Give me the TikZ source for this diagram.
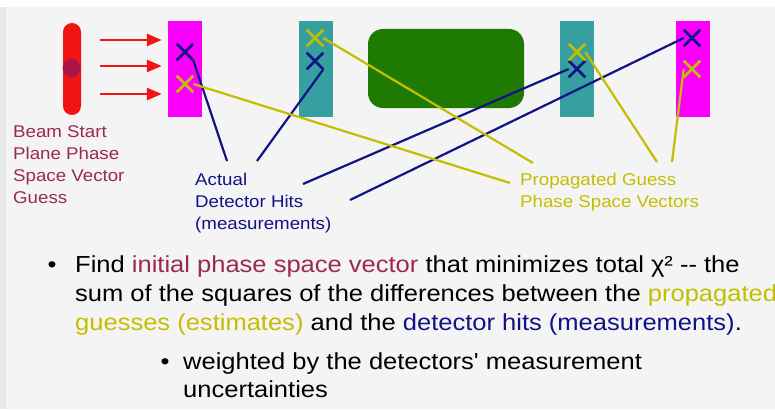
\documentclass[tikz,border=0pt]{standalone}
\usepackage{fontspec}
\usepackage{xcolor}
\usepackage{tikz}
\usetikzlibrary{shapes,shapes.misc,arrows.meta,positioning,calc}

\newfontfamily\slidefont{Liberation Sans}[FakeStretch=1.1]

\definecolor{beamred}{RGB}{240,20,20}
\definecolor{beamdot}{RGB}{170,20,70}
\definecolor{initcol}{RGB}{155,42,82}
\definecolor{hitcol}{RGB}{18,18,135}
\definecolor{guesscol}{RGB}{196,190,0}
\definecolor{detmag}{RGB}{250,0,250}
\definecolor{detteal}{RGB}{54,160,160}
\definecolor{magnetgreen}{RGB}{30,122,0}
\definecolor{slidebg}{RGB}{244,244,244}

\tikzset{
  detector/.style={rectangle, minimum width=34pt, minimum height=95pt, inner sep=0pt},
  hitmark/.style={cross out, draw=hitcol, line width=2.6pt, minimum size=14pt, inner sep=0pt},
  guessmark/.style={cross out, draw=guesscol, line width=2.6pt, minimum size=14pt, inner sep=0pt},
  hitline/.style={draw=hitcol, line width=2.2pt},
  guessline/.style={draw=guesscol, line width=2.2pt},
  beamarrow/.style={draw=beamred, line width=2.8pt, -{Triangle[length=15pt,width=12pt]}},
  label/.style={font=\slidefont\fontsize{17}{22}\selectfont, align=left, inner sep=0pt, anchor=base west},
  bullettext/.style={font=\slidefont\fontsize{23.2}{29}\selectfont, align=left, inner sep=0pt, anchor=base west}
}

\begin{document}
\begin{tikzpicture}[x=1pt, y=-1pt]
    % slide background
    \fill[slidebg] (0,0) rectangle (775,409);
    \fill[white] (0,0) rectangle (775,7);
    \fill[gray!18] (0,7) rectangle (6,409);
    \useasboundingbox (0,0) rectangle (775,409);

    % beam start plane with the guessed vector
    \node [rectangle, rounded corners=9pt, fill=beamred, minimum width=18pt, minimum height=92pt] (beam) at (72,69) {};
    \fill[beamdot] (71.5,68) circle (9pt);

    % detector planes and the magnet
    \node [detector, fill=detmag] (detA) at (185,69) {};
    \node [detector, fill=detteal] (detB) at (316,69) {};
    \node [rectangle, rounded corners=15pt, fill=magnetgreen, minimum width=156pt, minimum height=79pt] (magnet) at (446,68.5) {};
    \node [detector, fill=detteal] (detC) at (576.5,69) {};
    \node [detector, fill=detmag] (detD) at (692.5,69) {};

    % beam arrows into the first plane
    \foreach \y in {40,66,94}
        \draw[beamarrow, shorten <=19pt, shorten >=6pt] (beam.east |- 0,\y) -- (detA.west |- 0,\y);

    % measured hits
    \node [hitmark] (hitA) at (185,52) {};
    \node [hitmark] (hitB) at (315,61) {};
    \node [hitmark] (hitC) at (577,69) {};
    \node [hitmark] (hitD) at (692,38) {};

    % propagated guesses
    \node [guessmark] (guessA) at (185,84) {};
    \node [guessmark] (guessB) at (315,38) {};
    \node [guessmark] (guessC) at (577,52) {};
    \node [guessmark] (guessD) at (692,69) {};

    % labels (base is the last line)
    \node [label, text=initcol] (beamlabel) at (13,203) {Beam Start\\Plane Phase\\Space Vector\\Guess};
    \node [label, text=hitcol] (hitlabel) at (195,229) {Actual\\Detector Hits\\(measurements)};
    \node [label, text=guesscol] (guesslabel) at (520,207) {Propagated Guess\\Phase Space Vectors};

    % pointer ends
    \coordinate (hitendA) at (227,161);
    \coordinate (hitendB) at (257,161);
    \coordinate (hitendC) at (303,184);
    \coordinate (hitendD) at (350,200);
    \coordinate (guessendA) at (510,183);
    \coordinate (guessendB) at (533,163);
    \coordinate (guessendC) at (657,162);
    \coordinate (guessendD) at (672,162);

    \draw[hitline] (hitA.south east) -- (hitendA);
    \draw[hitline] (hitB.south east) -- (hitendB);
    \draw[hitline] (hitC.west) -- (hitendC);
    \draw[hitline] (hitD.west) -- (hitendD);
    \draw[guessline] (guessA.east) -- (guessendA);
    \draw[guessline] (guessB.east) -- (guessendB);
    \draw[guessline] (guessC.east) -- (guessendC);
    \draw[guessline] (guessD.west) -- (guessendD);

    % bullet points
    \node [bullettext] (findtext) at (75,330) {Find \textcolor{initcol}{initial phase space vector} that minimizes total χ² -- the\\
        sum of the squares of the differences between the \textcolor{guesscol}{propagated}\\
        \textcolor{guesscol}{guesses (estimates)} and the \textcolor{hitcol}{detector hits (measurements)}.};
    \node [bullettext, anchor=base] (bulletA) at (52,272) {•};
    \node [bullettext, font=\slidefont\fontsize{23.2}{28}\selectfont] (weighttext) at (183,397) {weighted by the detectors' measurement\\uncertainties};
    \node [bullettext, anchor=base] (bulletB) at (165,369) {•};
\end{tikzpicture}
\end{document}
